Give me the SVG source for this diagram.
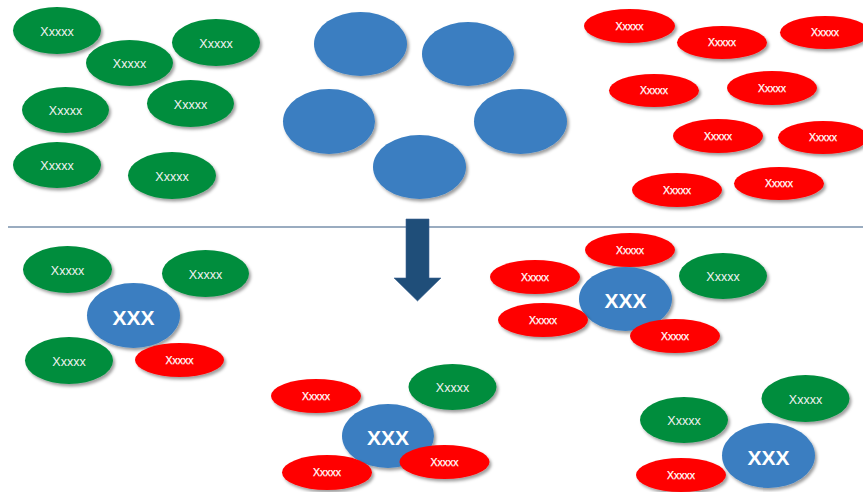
<svg xmlns="http://www.w3.org/2000/svg" width="863" height="492" viewBox="0 0 863 492">
<defs>
<filter id="sh" x="-20%" y="-20%" width="150%" height="160%">
<feDropShadow dx="2" dy="2.5" stdDeviation="1.6" flood-color="#000" flood-opacity="0.38"/>
</filter>
</defs>
<style>
.g{fill:#028D3E;filter:url(#sh)}
.r{fill:#FF0000;filter:url(#sh)}
.b{fill:#3A7EC1;filter:url(#sh)}
.tg{font-family:"Liberation Sans",Arial,sans-serif;font-size:12.5px;fill:#F2F2F2;text-anchor:middle}
.tr{font-family:"Liberation Sans",Arial,sans-serif;font-size:10.5px;fill:#FFFFFF;text-anchor:middle;stroke:#FFFFFF;stroke-width:0.25}
.tb{font-family:"Liberation Sans",Arial,sans-serif;font-size:21px;font-weight:bold;fill:#FFFFFF;text-anchor:middle}
</style>
<rect width="863" height="492" fill="#FFFFFF"/>
<!-- top-left green -->
<g id="tg1"><ellipse class="g" cx="57" cy="30.5" rx="44" ry="23.5"/><text class="tg" x="57" y="36">Xxxxx</text></g>
<g id="tg2"><ellipse class="g" cx="129.5" cy="63" rx="43.5" ry="23"/><text class="tg" x="129.5" y="68">Xxxxx</text></g>
<g id="tg3"><ellipse class="g" cx="216" cy="42.5" rx="44" ry="23.5"/><text class="tg" x="216" y="47.5">Xxxxx</text></g>
<g id="tg4"><ellipse class="g" cx="65.5" cy="110" rx="43.5" ry="23"/><text class="tg" x="65.5" y="115">Xxxxx</text></g>
<g id="tg5"><ellipse class="g" cx="190.5" cy="103.5" rx="43.5" ry="23.5"/><text class="tg" x="190.5" y="108.5">Xxxxx</text></g>
<g id="tg6"><ellipse class="g" cx="57" cy="165" rx="44" ry="23"/><text class="tg" x="57" y="170">Xxxxx</text></g>
<g id="tg7"><ellipse class="g" cx="172" cy="175.5" rx="44" ry="23.5"/><text class="tg" x="172" y="180.5">Xxxxx</text></g>
<!-- top blue -->
<g id="tb1"><ellipse class="b" cx="360.5" cy="44" rx="46.5" ry="32"/></g>
<g id="tb2"><ellipse class="b" cx="468" cy="54" rx="46" ry="32"/></g>
<g id="tb3"><ellipse class="b" cx="329" cy="121.5" rx="46" ry="32.5"/></g>
<g id="tb4"><ellipse class="b" cx="520.5" cy="121.5" rx="46.5" ry="32.5"/></g>
<g id="tb5"><ellipse class="b" cx="419.5" cy="167" rx="46.5" ry="32"/></g>
<!-- top-right red -->
<g id="tr1"><ellipse class="r" cx="629.5" cy="26" rx="45.5" ry="17"/><text class="tr" x="629.5" y="29.5">Xxxxx</text></g>
<g id="tr2"><ellipse class="r" cx="722" cy="42.5" rx="45" ry="16.5"/><text class="tr" x="722" y="46">Xxxxx</text></g>
<g id="tr3"><ellipse class="r" cx="825" cy="32.5" rx="45" ry="16.5"/><text class="tr" x="825" y="36">Xxxxx</text></g>
<g id="tr4"><ellipse class="r" cx="654" cy="90.5" rx="45" ry="16.5"/><text class="tr" x="654" y="94">Xxxxx</text></g>
<g id="tr5"><ellipse class="r" cx="772" cy="88" rx="45" ry="17"/><text class="tr" x="772" y="91.5">Xxxxx</text></g>
<g id="tr6"><ellipse class="r" cx="718" cy="136" rx="45" ry="17"/><text class="tr" x="718" y="139.5">Xxxxx</text></g>
<g id="tr7"><ellipse class="r" cx="823" cy="137.5" rx="45" ry="16.5"/><text class="tr" x="823" y="141">Xxxxx</text></g>
<g id="tr8"><ellipse class="r" cx="677" cy="190" rx="45" ry="17"/><text class="tr" x="677" y="193.5">Xxxxx</text></g>
<g id="tr9"><ellipse class="r" cx="779" cy="183.5" rx="45" ry="16.5"/><text class="tr" x="779" y="187">Xxxxx</text></g>
<!-- separator and arrow -->
<g id="connectors">
<line x1="8" y1="227" x2="863" y2="227" stroke="#7890AB" stroke-width="1.6"/>
<polygon points="406,219 429,219 429,278 441,278 417.5,301 394,278 406,278" fill="#1F4E79" stroke="#3C6391" stroke-width="0.6"/>
</g>
<!-- bottom-left cluster -->
<g id="bl_g1"><ellipse class="g" cx="67.5" cy="269.5" rx="44.5" ry="23.5"/><text class="tg" x="67.5" y="274.5">Xxxxx</text></g>
<g id="bl_g2"><ellipse class="g" cx="205.5" cy="273.5" rx="43.5" ry="23.5"/><text class="tg" x="205.5" y="278.5">Xxxxx</text></g>
<g id="bl_g3"><ellipse class="g" cx="69" cy="360.5" rx="44" ry="23.5"/><text class="tg" x="69" y="365.5">Xxxxx</text></g>
<g id="bl_b"><ellipse class="b" cx="133.5" cy="315.5" rx="46.5" ry="32.5"/><text class="tb" x="133.5" y="325">XXX</text></g>
<g id="bl_r"><ellipse class="r" cx="179.5" cy="360" rx="44.5" ry="17"/><text class="tr" x="179.5" y="363.5">Xxxxx</text></g>
<!-- bottom-right-upper cluster -->
<g id="br_r1"><ellipse class="r" cx="630" cy="250" rx="45" ry="17"/><text class="tr" x="630" y="253.5">Xxxxx</text></g>
<g id="br_r2"><ellipse class="r" cx="535" cy="277" rx="45" ry="17"/><text class="tr" x="535" y="280.5">Xxxxx</text></g>
<g id="br_g"><ellipse class="g" cx="723" cy="276" rx="44" ry="23"/><text class="tg" x="723" y="281">Xxxxx</text></g>
<g id="br_b"><ellipse class="b" cx="625.5" cy="299" rx="46.5" ry="32"/><text class="tb" x="625.5" y="308">XXX</text></g>
<g id="br_r3"><ellipse class="r" cx="543" cy="320" rx="45" ry="17"/><text class="tr" x="543" y="323.5">Xxxxx</text></g>
<g id="br_r4"><ellipse class="r" cx="675" cy="336" rx="45" ry="17"/><text class="tr" x="675" y="339.5">Xxxxx</text></g>
<!-- bottom-center cluster -->
<g id="bc_r1"><ellipse class="r" cx="316" cy="396" rx="45" ry="17"/><text class="tr" x="316" y="399.5">Xxxxx</text></g>
<g id="bc_g"><ellipse class="g" cx="452.5" cy="387" rx="44" ry="23"/><text class="tg" x="452.5" y="392">Xxxxx</text></g>
<g id="bc_b"><ellipse class="b" cx="388" cy="436" rx="46" ry="32"/><text class="tb" x="388" y="445">XXX</text></g>
<g id="bc_r2"><ellipse class="r" cx="444.5" cy="462" rx="45" ry="17"/><text class="tr" x="444.5" y="465.5">Xxxxx</text></g>
<g id="bc_r3"><ellipse class="r" cx="327" cy="472.5" rx="45" ry="17.5"/><text class="tr" x="327" y="476">Xxxxx</text></g>
<!-- bottom-right-lower cluster -->
<g id="bx_g1"><ellipse class="g" cx="805.5" cy="398.5" rx="44" ry="23.5"/><text class="tg" x="805.5" y="403.5">Xxxxx</text></g>
<g id="bx_g2"><ellipse class="g" cx="684" cy="420" rx="44" ry="23"/><text class="tg" x="684" y="425">Xxxxx</text></g>
<g id="bx_b"><ellipse class="b" cx="768.5" cy="455.5" rx="46.5" ry="32.5"/><text class="tb" x="768.5" y="465">XXX</text></g>
<g id="bx_r"><ellipse class="r" cx="681" cy="475" rx="45" ry="17"/><text class="tr" x="681" y="478.5">Xxxxx</text></g>
</svg>
